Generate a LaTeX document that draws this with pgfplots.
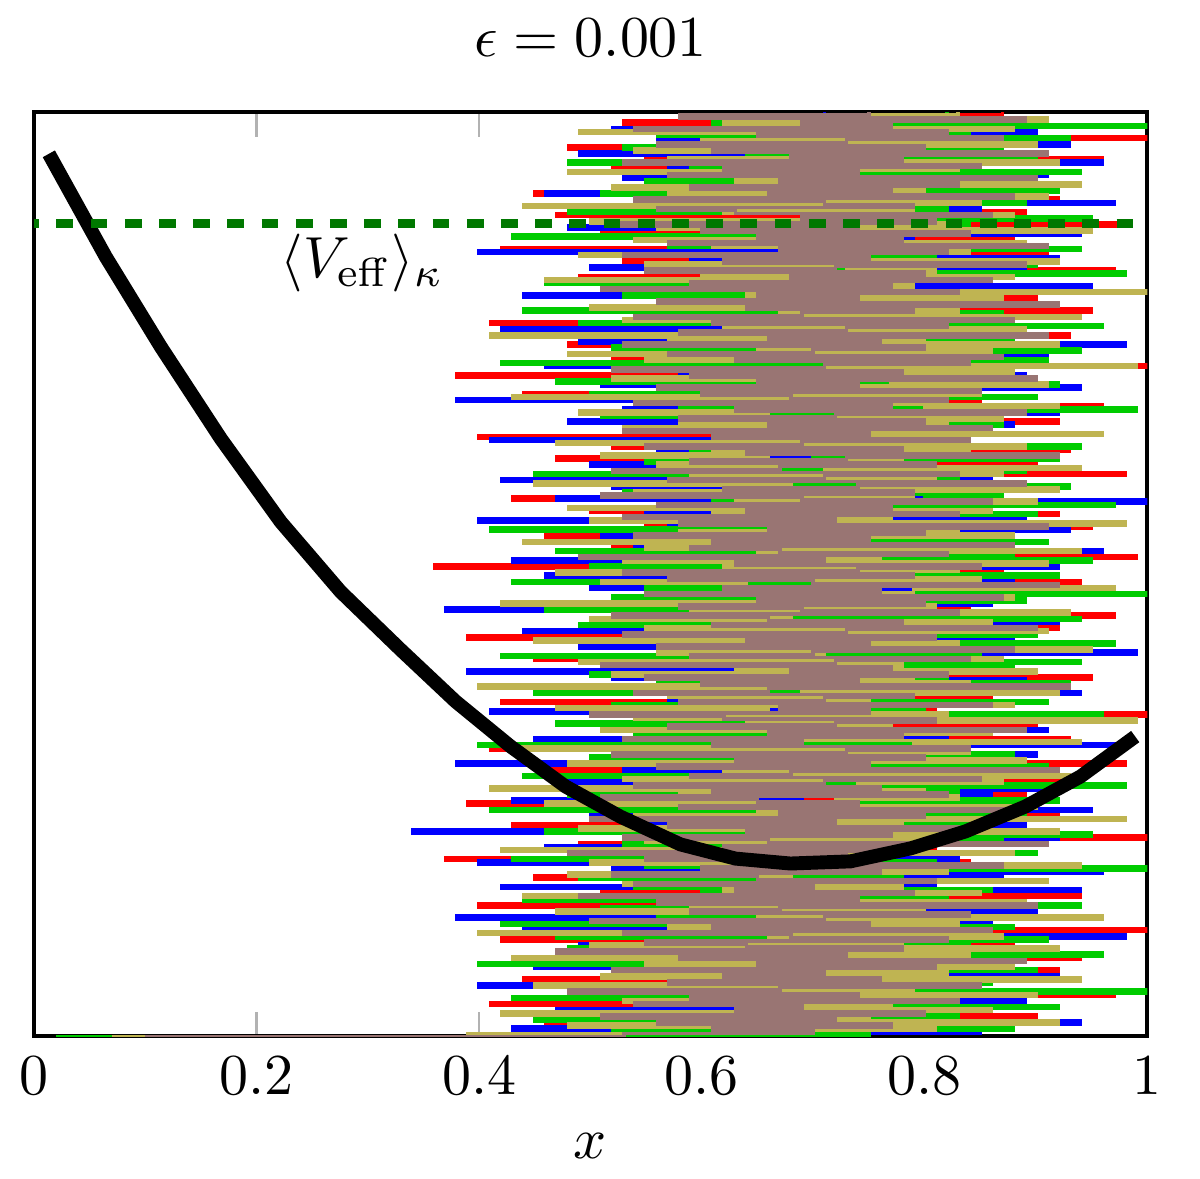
\documentclass[border=0pt]{standalone}
\usepackage{pgfplots}
\usepackage{pgfplotstable}
\pgfplotsset{compat=1.18}
\definecolor{tr}{RGB}{255,0,0}
\definecolor{tb}{RGB}{0,0,255}
\definecolor{tg}{RGB}{0,204,0}
\definecolor{to}{RGB}{191,180,82}
\definecolor{tm}{RGB}{153,117,115}
\definecolor{dg}{RGB}{0,120,0}
\pgfplotstableread{
t r b g o m
0 0.03 0.05 0.02 0.07 0.10
1 0.50 0.57 0.75 0.39 0.53
2 0.78 0.85 0.52 0.67 0.70
3 0.59 0.43 0.88 0.81 0.61
4 0.87 0.72 0.61 0.48 0.77
5 0.46 0.94 0.69 0.92 0.56
6 0.73 0.53 0.45 0.58 0.72
7 0.90 0.65 0.83 0.75 0.51
8 0.55 0.81 0.56 0.42 0.80
9 0.69 0.47 0.74 0.86 0.63
10 0.82 0.76 0.92 0.64 0.69
11 0.41 0.62 0.58 0.77 0.54
12 0.76 0.89 0.79 0.53 0.83
13 0.63 0.51 0.43 0.71 0.59
14 0.97 0.74 0.71 0.90 0.74
15 0.52 0.59 1.03 0.56 0.48
16 0.80 0.84 0.64 0.79 0.67
17 0.58 0.40 0.50 0.45 0.85
18 0.71 0.78 0.86 0.68 0.57
19 0.44 0.66 0.62 0.94 0.76
20 0.85 0.92 0.77 0.51 0.62
21 0.66 0.55 0.53 0.82 0.71
22 0.92 0.80 0.90 0.61 0.52
23 0.51 0.45 0.68 0.88 0.81
24 0.77 0.71 0.40 0.55 0.65
25 0.60 0.87 0.81 0.74 0.89
26 0.94 0.52 0.57 0.43 0.58
27 0.48 0.75 0.96 0.84 0.73
28 0.74 0.63 0.65 0.63 0.47
29 0.56 0.91 0.48 0.92 0.78
30 0.88 0.49 0.84 0.50 0.64
31 0.65 0.79 0.59 0.78 0.55
32 0.42 0.57 0.91 0.66 0.82
33 0.81 0.98 0.47 0.87 0.68
34 0.54 0.68 0.76 0.40 0.53
35 1.04 0.44 0.63 0.75 0.86
36 0.61 0.83 0.88 0.57 0.61
37 0.83 0.61 0.42 0.83 0.75
38 0.47 0.86 0.72 0.52 0.50
39 0.72 0.38 0.85 0.96 0.71
40 0.89 0.74 0.56 0.65 0.84
41 0.57 0.90 0.80 0.47 0.59
42 0.75 0.54 0.51 0.80 0.67
43 0.40 0.69 0.94 0.59 0.90
44 0.86 0.82 0.67 0.89 0.56
45 0.63 0.48 0.44 0.71 0.74
46 0.94 0.77 0.82 0.44 0.49
47 0.51 0.64 0.60 0.85 0.79
48 0.79 0.94 0.86 0.62 0.63
49 0.67 0.42 0.54 0.78 0.70
50 0.55 0.81 0.73 0.53 0.54
51 0.91 0.58 0.89 0.91 0.81
52 0.45 0.87 0.49 0.68 0.65
53 0.78 0.65 0.78 0.48 0.52
54 0.62 0.96 0.65 0.82 0.76
55 0.96 0.52 1.01 0.60 0.60
56 0.53 0.73 0.55 0.94 0.87
57 0.84 0.40 0.81 0.50 0.69
58 0.37 0.83 0.43 0.76 0.55
59 0.71 0.60 0.70 0.64 0.73
60 0.87 0.88 0.90 0.88 0.48
61 0.59 0.70 0.58 0.42 0.78
62 0.81 0.46 0.75 0.73 0.62
63 0.49 0.79 0.53 0.86 0.91
64 0.74 0.57 0.87 0.55 0.66
65 1.03 0.92 0.64 0.81 0.53
66 0.56 0.68 0.95 0.67 0.77
67 0.88 0.34 0.46 0.92 0.64
68 0.65 0.77 0.79 0.49 0.83
69 0.43 0.89 0.61 0.78 0.57
70 0.80 0.55 0.84 0.61 0.72
71 0.61 0.72 0.52 0.98 0.50
72 0.92 0.83 0.89 0.54 0.80
73 0.52 0.50 0.66 0.77 0.67
74 0.76 0.95 0.41 0.65 0.88
75 0.64 0.63 0.81 0.90 0.58
76 0.39 0.80 0.59 0.46 0.74
77 0.83 0.43 0.92 0.72 0.65
78 0.57 0.69 0.74 0.83 0.51
79 0.89 0.86 0.48 0.58 0.82
80 0.68 0.59 0.83 0.80 0.61
81 0.50 0.92 0.62 0.41 0.76
82 0.85 0.66 0.98 0.74 0.54
83 0.62 0.48 0.55 0.87 0.71
84 0.94 0.81 0.77 0.53 0.85
85 0.55 0.61 0.44 0.93 0.59
86 0.79 0.89 0.86 0.62 0.68
87 0.46 0.53 0.69 0.81 0.92
88 0.73 0.76 0.91 0.67 0.56
89 0.98 0.38 0.57 0.48 0.75
90 0.60 0.84 0.80 0.89 0.63
91 0.82 0.64 0.50 0.70 0.80
92 0.52 0.90 0.88 0.56 0.52
93 0.70 0.56 0.65 0.84 0.73
94 0.41 0.79 0.82 0.43 0.84
95 0.87 0.97 0.40 0.79 0.61
96 0.65 0.67 0.93 0.94 0.69
97 0.93 0.45 0.61 0.60 0.53
98 0.54 0.82 0.76 0.73 0.78
99 0.78 0.59 0.54 0.86 0.66
100 0.59 0.91 0.89 0.51 0.89
101 0.90 0.51 0.71 0.77 0.57
102 0.48 0.74 0.47 0.64 0.72
103 0.75 0.87 0.84 0.99 0.81
104 0.63 0.62 0.59 0.54 0.62
105 1.01 0.93 0.96 0.82 0.50
106 0.53 0.41 0.67 0.66 0.75
107 0.81 0.78 0.80 0.47 0.67
108 0.67 0.65 0.52 0.88 0.86
109 0.42 0.86 0.91 0.61 0.58
110 0.86 0.57 0.63 0.75 0.71
111 0.58 0.71 0.77 0.57 0.79
112 0.91 0.94 0.45 0.92 0.54
113 0.69 0.47 0.87 0.69 0.66
114 0.49 0.82 0.65 0.40 0.93
115 0.77 0.60 0.93 0.84 0.60
116 0.64 0.89 0.56 0.65 0.74
117 0.95 0.52 0.82 0.79 0.55
118 0.51 0.76 0.50 0.52 0.82
119 0.74 0.39 0.74 0.90 0.68
120 0.83 0.85 0.88 0.63 0.77
121 0.56 0.68 0.58 0.78 0.51
122 0.88 0.91 0.94 0.49 0.72
123 0.45 0.54 0.69 0.87 0.84
124 0.71 0.80 0.42 0.71 0.59
125 0.61 0.99 0.85 0.56 0.70
126 0.93 0.63 0.61 0.95 0.88
127 0.54 0.49 0.79 0.66 0.56
128 0.80 0.84 0.97 0.83 0.75
129 0.66 0.58 0.53 0.45 0.64
130 0.39 0.88 0.72 0.80 0.81
131 0.85 0.70 0.90 0.62 0.53
132 0.59 0.44 0.57 0.91 0.73
133 0.92 0.81 0.83 0.55 0.90
134 0.50 0.64 0.49 0.75 0.61
135 0.76 0.92 0.68 0.86 0.78
136 0.68 0.53 0.94 0.50 0.66
137 0.97 0.77 0.59 0.68 0.52
138 0.53 0.90 0.81 0.93 0.83
139 0.73 0.37 0.46 0.59 0.69
140 0.84 0.71 0.76 0.81 0.58
141 0.44 0.86 0.64 0.42 0.80
142 0.79 0.56 0.89 0.74 0.65
143 0.62 0.79 0.52 0.88 0.87
144 0.90 0.66 1.04 0.57 0.55
145 0.55 0.94 0.71 0.79 0.76
146 0.82 0.50 0.55 0.97 0.62
147 0.65 0.75 0.85 0.64 0.92
148 0.94 0.61 0.43 0.51 0.70
149 0.48 0.88 0.78 0.85 0.57
150 0.75 0.46 0.92 0.69 0.79
151 0.60 0.83 0.60 0.47 0.53
152 0.87 0.59 0.81 0.83 0.74
153 0.36 0.92 0.50 0.62 0.85
154 0.78 0.68 0.73 0.91 0.63
155 0.67 0.43 0.95 0.53 0.71
156 0.99 0.80 0.66 0.76 0.49
157 0.57 0.65 0.88 0.65 0.82
158 0.81 0.96 0.47 0.94 0.67
159 0.52 0.54 0.79 0.55 0.59
160 0.71 0.78 0.62 0.80 0.88
161 0.89 0.62 0.91 0.44 0.61
162 0.63 0.87 0.54 0.72 0.75
163 0.46 0.51 0.84 0.88 0.54
164 0.84 0.73 0.69 0.58 0.80
165 0.69 0.93 0.41 0.83 0.66
166 0.95 0.57 0.86 0.67 0.91
167 0.55 0.81 0.65 0.98 0.58
168 0.77 0.40 0.77 0.50 0.72
169 0.61 0.89 0.56 0.77 0.53
170 0.92 0.69 0.90 0.61 0.83
171 0.50 0.55 0.72 0.86 0.64
172 0.80 0.84 0.49 0.48 0.77
173 0.64 0.66 0.97 0.73 0.56
174 0.91 1.03 0.61 0.90 0.86
175 0.43 0.47 0.80 0.63 0.69
176 0.73 0.80 0.87 0.79 0.51
177 0.58 0.63 0.53 0.54 0.79
178 0.86 0.91 0.74 0.92 0.62
179 0.68 0.52 0.93 0.68 0.74
180 0.49 0.75 0.58 0.45 0.89
181 0.83 0.42 0.83 0.81 0.57
182 0.62 0.86 0.67 0.59 0.71
183 0.98 0.70 0.45 0.87 0.83
184 0.54 0.58 0.89 0.71 0.52
185 0.79 0.94 0.64 0.94 0.67
186 0.66 0.50 0.78 0.56 0.81
187 0.90 0.77 0.55 0.78 0.59
188 0.47 0.85 0.92 0.66 0.73
189 0.75 0.61 0.70 0.51 0.92
190 0.59 0.82 0.81 0.84 0.64
191 0.93 0.56 0.59 0.61 0.78
192 0.52 0.91 0.94 0.89 0.55
193 0.81 0.67 0.48 0.47 0.69
194 0.69 0.41 0.82 0.76 0.84
195 0.40 0.80 0.66 0.64 0.61
196 0.88 0.95 0.91 0.96 0.75
197 0.61 0.59 0.54 0.69 0.53
198 0.77 0.74 0.75 0.53 0.86
199 0.55 0.88 0.87 0.82 0.66
200 0.92 0.48 0.63 0.58 0.80
201 0.65 0.79 0.86 0.87 0.58
202 0.83 0.64 0.51 0.66 0.72
203 0.50 0.92 0.74 0.49 0.89
204 0.76 0.53 0.99 0.80 0.63
205 0.96 0.83 0.58 0.92 0.77
206 0.58 0.69 0.81 0.60 0.54
207 0.85 0.38 0.67 0.75 0.82
208 0.67 0.87 0.90 0.43 0.68
209 0.44 0.62 0.50 0.85 0.60
210 0.80 0.75 0.78 0.70 0.85
211 0.63 0.94 0.61 0.56 0.56
212 0.91 0.51 0.92 0.91 0.74
213 0.53 0.81 0.47 0.77 0.65
214 0.74 0.65 0.84 0.52 0.90
215 0.38 0.89 0.65 0.68 0.59
216 0.86 0.58 0.88 0.88 0.78
217 0.60 0.73 0.55 0.59 0.52
218 1.03 0.46 0.77 0.99 0.71
219 0.68 0.84 0.42 0.74 0.84
220 0.52 0.70 0.91 0.55 0.63
221 0.82 0.91 0.69 0.82 0.87
222 0.57 0.55 0.59 0.48 0.57
223 0.89 0.79 0.94 0.86 0.70
224 0.72 0.65 0.52 0.65 0.80
225 0.48 0.98 0.80 0.92 0.53
226 0.79 0.49 0.63 0.57 0.76
227 0.64 0.86 0.88 0.80 0.66
228 0.93 0.60 0.56 0.41 0.91
229 0.55 0.77 0.83 0.71 0.58
230 0.77 0.42 0.66 0.89 0.73
231 0.66 0.88 0.96 0.62 0.82
232 0.41 0.72 0.49 0.77 0.61
233 0.87 0.57 0.75 0.53 0.88
234 0.58 0.93 0.61 0.94 0.54
235 0.81 0.68 0.87 0.67 0.69
236 0.95 0.81 0.44 0.83 0.79
237 0.51 0.52 0.72 0.50 0.64
238 0.74 0.90 0.90 0.75 0.92
239 0.62 0.64 0.58 0.58 0.56
240 0.90 0.77 0.81 0.87 0.74
241 0.46 0.44 0.53 0.64 0.65
242 0.78 0.86 0.92 1.02 0.83
243 0.67 0.61 0.64 0.52 0.51
244 0.94 0.95 0.79 0.79 0.77
245 0.56 0.71 0.46 0.70 0.59
246 0.83 0.54 0.85 0.46 0.86
247 0.49 0.82 0.68 0.88 0.68
248 0.71 0.67 0.98 0.60 0.80
249 0.97 0.89 0.55 0.81 0.55
250 0.61 0.50 0.76 0.73 0.72
251 0.85 0.76 0.90 0.55 0.89
252 0.53 0.59 0.62 0.92 0.62
253 0.76 0.92 0.81 0.66 0.75
254 0.65 0.68 0.50 0.49 0.53
255 0.91 0.40 0.73 0.84 0.82
256 0.42 0.84 0.94 0.76 0.67
257 0.80 0.63 0.57 0.61 0.91
258 0.59 0.88 0.86 0.89 0.57
259 0.88 0.55 0.67 0.54 0.78
260 0.70 0.79 0.43 0.78 0.65
261 0.51 0.94 0.79 0.67 0.84
262 0.84 0.65 0.92 0.95 0.60
263 0.63 0.48 0.60 0.56 0.74
264 0.98 0.82 0.84 0.82 0.52
265 0.57 0.58 0.53 0.50 0.81
266 0.75 0.91 0.95 0.74 0.69
267 0.47 0.70 0.71 0.88 0.86
268 0.89 0.52 0.48 0.62 0.63
269 0.66 0.85 0.82 0.79 0.56
270 0.81 0.73 0.65 0.44 0.79
271 0.54 0.97 0.89 0.85 0.71
272 0.92 0.60 0.57 0.68 0.54
273 0.69 0.83 0.78 0.91 0.88
274 0.45 0.46 0.51 0.57 0.66
275 0.82 0.78 0.92 0.80 0.77
276 0.60 0.89 0.66 0.52 0.59
277 0.94 0.62 0.85 0.94 0.83
278 0.56 0.74 0.55 0.63 0.67
279 0.79 0.53 0.81 0.86 0.90
280 0.68 0.91 0.70 0.71 0.57
281 0.90 0.68 0.94 0.48 0.74
282 0.52 0.81 0.59 0.83 0.62
283 0.77 0.57 0.83 0.65 0.85
284 0.63 0.96 0.48 0.92 0.53
285 0.96 0.66 0.76 0.57 0.78
286 0.55 0.85 0.90 0.78 0.68
287 0.83 0.49 0.64 0.87 0.91
288 0.71 0.79 0.87 0.54 0.61
289 0.48 0.61 0.53 0.73 0.80
290 0.86 0.93 0.80 0.90 0.56
291 0.64 0.56 0.68 0.60 0.73
292 1.02 0.83 0.93 0.81 0.87
293 0.58 0.69 0.56 0.66 0.65
294 0.81 0.90 0.84 0.49 0.82
295 0.67 0.52 0.71 0.88 0.54
296 0.94 0.76 1.03 0.75 0.77
297 0.53 0.87 0.61 0.62 0.69
298 0.79 0.63 0.86 0.91 0.89
299 0.61 0.82 0.65 0.58 0.58
300 0.87 0.71 0.82 0.83 0.75
}\traces
\pgfplotstableread{
x y
0.0135 286.4
0.0646 253.0
0.1140 223.8
0.1679 194.0
0.2217 167.0
0.2756 144.3
0.3294 125.5
0.3788 108.7
0.4282 94.1
0.4776 81.1
0.5269 71.3
0.5808 62.3
0.6302 57.7
0.6795 56.1
0.7334 56.8
0.7873 61.0
0.8366 66.5
0.8905 74.6
0.9399 84.3
0.9892 97.3
}\curve
\begin{document}
\begin{tikzpicture}
\begin{axis}[
  scale only axis,
  width=192.1pt, height=159.5pt,
  xmin=0, xmax=1, ymin=0, ymax=300,
  xtick={0,0.2,0.4,0.6,0.8,1},
  ytick=\empty,
  tick style={gray!60, line width=0.4pt},
  axis line style={line width=0.7pt},
  xlabel={$x$},
  title={$\epsilon = 0.001$},
]
\addplot[tr, line width=0.6pt, const plot] table[x=r, y=t] {\traces};
\addplot[tb, line width=0.6pt, const plot] table[x=b, y=t] {\traces};
\addplot[tg, line width=0.6pt, const plot] table[x=g, y=t] {\traces};
\addplot[to, line width=0.6pt, const plot] table[x=o, y=t] {\traces};
\addplot[tm, line width=0.6pt, const plot] table[x=m, y=t] {\traces};
\addplot[black, line width=2.4pt] table[x=x, y=y] {\curve};
\addplot[dg, line width=1.55pt, dash pattern=on 2.9pt off 3pt, dash phase=2pt] coordinates {(0,263.7) (1,263.7)};
\node at (axis cs:0.295,251) {$\langle V_{\mathrm{eff}}\rangle_\kappa$};
\end{axis}
\path (current axis.south west) ++(-5.7pt,-24.3pt);
\path (current axis.north east) ++(9.1pt,19pt);
\end{tikzpicture}
\end{document}
